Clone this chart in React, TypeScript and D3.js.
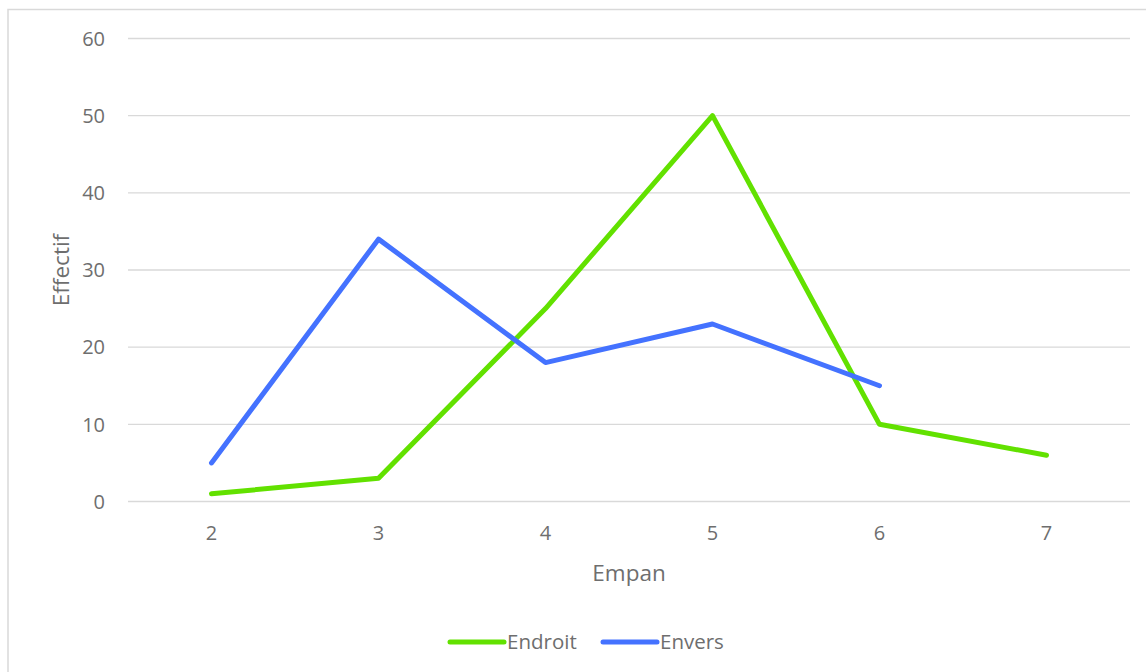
import React from "react";
import * as d3 from "d3";

const categories = ["2", "3", "4", "5", "6", "7"];
const endroit = [1, 3, 25, 50, 10, 6];
const envers = [5, 34, 18, 23, 15];
const yTicks = [0, 10, 20, 30, 40, 50, 60];
const seriesNames = ["Endroit", "Envers"];
const colors = ["#62E100", "#4472FF"];

export default function App() {
  const W = 1146, H = 672;
  const left = 128, right = 1130, top = 38.5, bottom = 501.5;
  const x = d3.scaleBand<string>().domain(categories).range([left, right]);
  const y = d3.scaleLinear().domain([0, 60]).range([bottom, top]);
  const cx = (c: string) => (x(c) as number) + x.bandwidth() / 2;
  const line = d3.line<[string, number]>().x(d => cx(d[0])).y(d => y(d[1]));
  const s1 = categories.map((c, i) => [c, endroit[i]] as [string, number]);
  const s2 = envers.map((v, i) => [categories[i], v] as [string, number]);
  const font = "Open Sans, Liberation Sans, sans-serif";
  const tc = "#6E6E6E";
  return (
    <svg width={W} height={H} style={{ position: "absolute", left: 0, top: 0, background: "#fff" }}>
      <rect x={8} y={9.5} width={1160} height={700} fill="#fff" stroke="#D9D9D9" strokeWidth={1.5} />
      {yTicks.map(t => (
        <g key={t}>
          <line x1={left} x2={right} y1={y(t)} y2={y(t)} stroke="#D9D9D9" strokeWidth={1.3} />
          <text x={105} y={y(t)} dy="0.36em" textAnchor="end" fontSize={20} fill={tc} fontFamily={font}>{t}</text>
        </g>
      ))}
      {categories.map(c => (
        <text key={c} x={cx(c)} y={540} textAnchor="middle" fontSize={20} fill={tc} fontFamily={font}>{c}</text>
      ))}
      <text x={629} y={581} textAnchor="middle" fontSize={22.5} fill={tc} fontFamily={font}>Empan</text>
      <text transform={`translate(69,${(top + bottom) / 2}) rotate(-90)`} textAnchor="middle" fontSize={22.5} fill={tc} fontFamily={font}>Effectif</text>
      <path d={line(s1) || ""} fill="none" stroke={colors[0]} strokeWidth={5} strokeLinecap="round" strokeLinejoin="round" />
      <path d={line(s2) || ""} fill="none" stroke={colors[1]} strokeWidth={5} strokeLinecap="round" strokeLinejoin="round" />
      {seriesNames.map((n, i) => {
        const lx = i === 0 ? 450 : 603;
        return (
          <g key={n}>
            <line x1={lx} x2={lx + 54} y1={642} y2={642} stroke={colors[i]} strokeWidth={5} strokeLinecap="round" />
            <text x={lx + 57} y={642} dy="0.36em" fontSize={20.5} fill={tc} fontFamily={font}>{n}</text>
          </g>
        );
      })}
    </svg>
  );
}
